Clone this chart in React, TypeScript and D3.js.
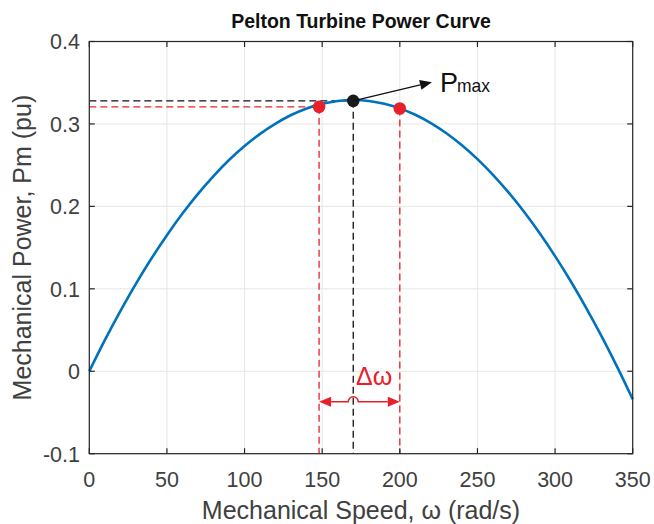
import React from "react";
import * as d3 from "d3";

const speeds = [0,10,20,30,40,50,60,70,80,90,100,110,120,130,140,150,160,170,180,190,200,210,220,230,240,250,260,270,280,290,300,310,320,330,340,350];
const power = [0,0.0377,0.0729,0.106,0.1367,0.1651,0.1913,0.2152,0.2368,0.2562,0.2732,0.288,0.3005,0.3108,0.3188,0.3244,0.3279,0.329,0.3279,0.3245,0.3189,0.3111,0.301,0.2887,0.2741,0.2573,0.2383,0.217,0.1935,0.1677,0.1397,0.1095,0.077,0.0423,0.0053,-0.0339];
const xTicks = [0,50,100,150,200,250,300,350];
const yTicks = [-0.1,0,0.1,0.2,0.3,0.4];
const yTickLabels = ["-0.1","0","0.1","0.2","0.3","0.4"];
const pmaxPoint = { w: 170, p: 0.328 };
const redPoints = [{ w: 148, p: 0.3207 }, { w: 200, p: 0.3187 }];
const deltaY = -0.037;
const arrowTip = { w: 220.7, p: 0.3507 };

const W = 654, H = 524;
const L = 89.3, R = 632.7, T = 41.5, B = 453.7;
const RED = "#e8202a";
const BLUE = "#0072BD";
const AX = "#262626";
const TXT = "#404040";
const FONT = "'Liberation Sans', Arial, Helvetica, sans-serif";

export default function App() {
  const x = d3.scaleLinear().domain([0, 350]).range([L, R]);
  const y = d3.scaleLinear().domain([-0.1, 0.4]).range([B, T]);
  const line = d3.line<number>().x((_, i) => x(speeds[i])).y((d) => y(d)).curve(d3.curveCatmullRom);
  const path = line(power) || "";

  const bx = x(pmaxPoint.w), by = y(pmaxPoint.p);
  const r1x = x(redPoints[0].w), r2x = x(redPoints[1].w);
  const dy = y(deltaY);
  const hump = 5;
  const ah = 12, aw = 5;

  const tx = x(arrowTip.w), ty = y(arrowTip.p);
  const ang = Math.atan2(ty - by, tx - bx);
  const ahx = tx - ah * Math.cos(ang), ahy = ty - ah * Math.sin(ang);
  const px = -Math.sin(ang) * aw, py = Math.cos(ang) * aw;

  return (
    <div style={{ position: "absolute", left: 0, top: 0 }}>
      <svg width={W} height={H} style={{ display: "block", background: "#fff" }}>
        <rect x={0} y={0} width={W} height={H} fill="#fff" />
        {xTicks.map((t) => (
          <line key={"gx" + t} x1={x(t)} x2={x(t)} y1={T} y2={B} stroke="#e6e6e6" strokeWidth={1} />
        ))}
        {yTicks.map((t) => (
          <line key={"gy" + t} x1={L} x2={R} y1={y(t)} y2={y(t)} stroke="#e6e6e6" strokeWidth={1} />
        ))}
        <line x1={L} x2={bx} y1={by} y2={by} stroke="#111" strokeWidth={1.3} strokeDasharray="7,4" />
        <line x1={bx} x2={bx} y1={by} y2={B} stroke="#111" strokeWidth={1.3} strokeDasharray="7,4" />
        <line x1={L} x2={r1x} y1={y(redPoints[0].p)} y2={y(redPoints[0].p)} stroke={RED} strokeWidth={1.3} strokeDasharray="7,4" />
        {redPoints.map((p, i) => (
          <line key={"rv" + i} x1={x(p.w)} x2={x(p.w)} y1={y(p.p)} y2={B} stroke={RED} strokeWidth={1.3} strokeDasharray="7,4" />
        ))}
        <path d={path} fill="none" stroke={BLUE} strokeWidth={2.6} />
        {redPoints.map((p, i) => (
          <circle key={"rp" + i} cx={x(p.w)} cy={y(p.p)} r={6.3} fill={RED} />
        ))}
        <circle cx={bx} cy={by} r={6.3} fill="#1a1a1a" />
        <line x1={bx} y1={by} x2={ahx} y2={ahy} stroke="#111" strokeWidth={1.4} />
        <polygon points={`${tx},${ty} ${ahx + px},${ahy + py} ${ahx - px},${ahy - py}`} fill="#111" />
        <text x={440} y={92.3} fontFamily={FONT} fontSize={27} fill="#111">P</text>
        <text x={457} y={92.3} fontFamily={FONT} fontSize={19} fill="#111" textLength={33} lengthAdjust="spacingAndGlyphs">max</text>
        <path
          d={`M${r1x + ah},${dy} L${bx - hump},${dy} A${hump},${hump} 0 0 1 ${bx + hump},${dy} L${r2x - ah},${dy}`}
          fill="none" stroke={RED} strokeWidth={1.5}
        />
        <polygon points={`${r1x},${dy} ${r1x + ah},${dy - aw} ${r1x + ah},${dy + aw}`} fill={RED} />
        <polygon points={`${r2x},${dy} ${r2x - ah},${dy - aw} ${r2x - ah},${dy + aw}`} fill={RED} />
        <text x={356} y={385} fontFamily={FONT} fontSize={25} fill={RED}>Δω</text>
        <rect x={L} y={T} width={R - L} height={B - T} fill="none" stroke={AX} strokeWidth={1.2} />
        {xTicks.map((t) => (
          <g key={"xt" + t}>
            <line x1={x(t)} x2={x(t)} y1={B} y2={B - 5.5} stroke={AX} strokeWidth={1.2} />
            <line x1={x(t)} x2={x(t)} y1={T} y2={T + 5.5} stroke={AX} strokeWidth={1.2} />
            <text x={x(t)} y={487} textAnchor="middle" fontFamily={FONT} fontSize={21.5} fill={TXT}>{t}</text>
          </g>
        ))}
        {yTicks.map((t, i) => (
          <g key={"yt" + t}>
            <line x1={L} x2={L + 5.5} y1={y(t)} y2={y(t)} stroke={AX} strokeWidth={1.2} />
            <line x1={R} x2={R - 5.5} y1={y(t)} y2={y(t)} stroke={AX} strokeWidth={1.2} />
            <text x={80} y={y(t) + 7.8} textAnchor="end" fontFamily={FONT} fontSize={21.5} fill={TXT}>{yTickLabels[i]}</text>
          </g>
        ))}
        <text x={(L + R) / 2} y={28} textAnchor="middle" fontFamily={FONT} fontSize={19.5} fontWeight="bold" fill="#111">Pelton Turbine Power Curve</text>
        <text x={(L + R) / 2} y={519} textAnchor="middle" fontFamily={FONT} fontSize={25} fill={TXT}>Mechanical Speed, ω (rad/s)</text>
        <text transform={`translate(31,${(T + B) / 2}) rotate(-90)`} textAnchor="middle" fontFamily={FONT} fontSize={25} fill={TXT}>Mechanical Power, Pm (pu)</text>
      </svg>
    </div>
  );
}
